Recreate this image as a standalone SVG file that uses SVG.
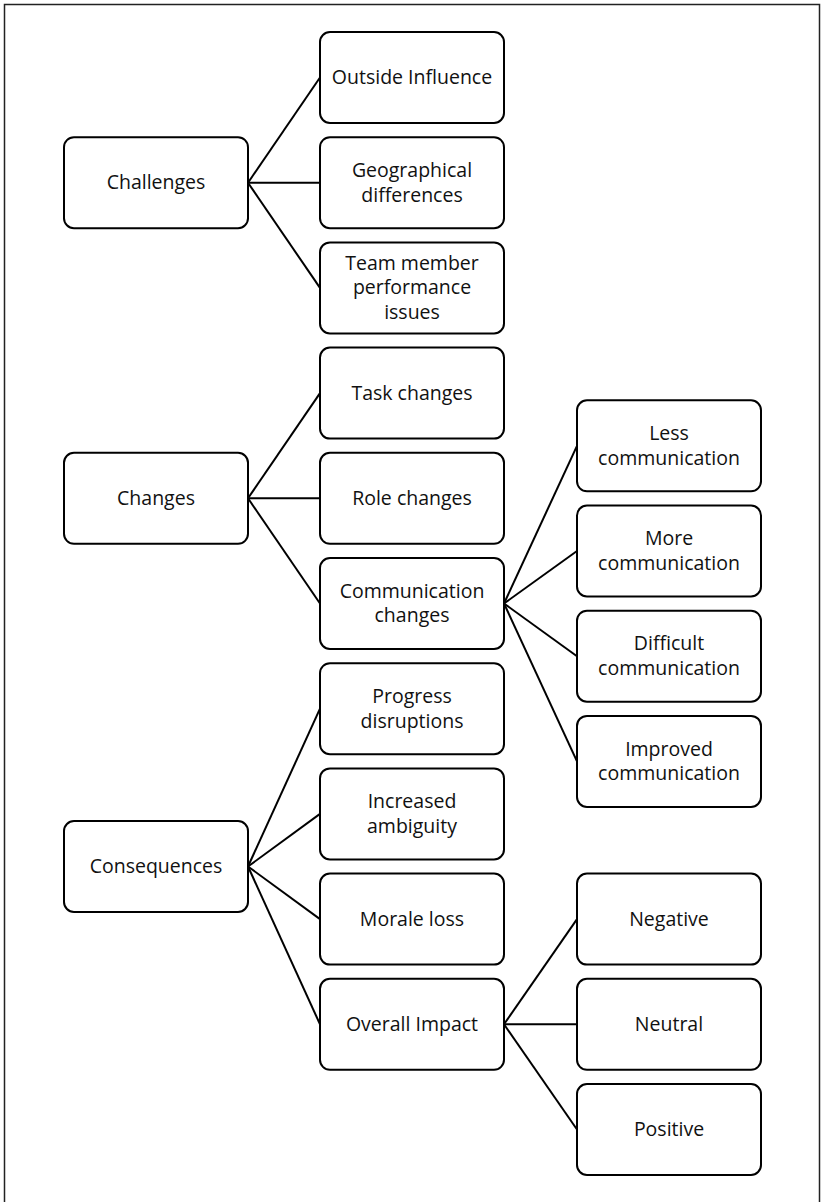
<svg xmlns="http://www.w3.org/2000/svg" width="821" height="1202" viewBox="0 0 821 1202">
<style>
.box{fill:#fff;stroke:#000;stroke-width:2}
.lbl{font-family:"Open Sans","Liberation Sans",sans-serif;font-size:19.5px;fill:#111;text-anchor:middle}
.con line{stroke:#000;stroke-width:2}
</style>
<rect x="0" y="0" width="821" height="1202" fill="#fff"/>
<rect x="4.5" y="4.5" width="815" height="1210" fill="none" stroke="#222" stroke-width="1.5"/>
<g id="connectors" class="con">
<line x1="248" y1="182.7" x2="320" y2="77.5"/>
<line x1="248" y1="182.7" x2="320" y2="182.7"/>
<line x1="248" y1="182.7" x2="320" y2="287.9"/>
<line x1="248" y1="498.3" x2="320" y2="393.1"/>
<line x1="248" y1="498.3" x2="320" y2="498.3"/>
<line x1="248" y1="498.3" x2="320" y2="603.5"/>
<line x1="248" y1="866.5" x2="320" y2="708.7"/>
<line x1="248" y1="866.5" x2="320" y2="813.9"/>
<line x1="248" y1="866.5" x2="320" y2="919.1"/>
<line x1="248" y1="866.5" x2="320" y2="1024.3"/>
<line x1="504" y1="603.5" x2="577" y2="445.8"/>
<line x1="504" y1="603.5" x2="577" y2="551"/>
<line x1="504" y1="603.5" x2="577" y2="656.2"/>
<line x1="504" y1="603.5" x2="577" y2="761.4"/>
<line x1="504" y1="1024.3" x2="577" y2="919.1"/>
<line x1="504" y1="1024.3" x2="577" y2="1024.3"/>
<line x1="504" y1="1024.3" x2="577" y2="1129.5"/>
</g>
<g id="challenges"><rect class="box" x="64" y="137.2" width="184" height="91" rx="10"/><text class="lbl" x="156" y="189.2">Challenges</text></g>
<g id="changes"><rect class="box" x="64" y="452.8" width="184" height="91" rx="10"/><text class="lbl" x="156" y="504.8">Changes</text></g>
<g id="consequences"><rect class="box" x="64" y="821" width="184" height="91" rx="10"/><text class="lbl" x="156" y="873">Consequences</text></g>
<g id="outside-influence"><rect class="box" x="320" y="32" width="184" height="91" rx="10"/><text class="lbl" x="412" y="84">Outside Influence</text></g>
<g id="geographical"><rect class="box" x="320" y="137.2" width="184" height="91" rx="10"/><text class="lbl" x="412" y="176.8">Geographical</text><text class="lbl" x="412" y="201.5">differences</text></g>
<g id="team-member"><rect class="box" x="320" y="242.4" width="184" height="91" rx="10"/><text class="lbl" x="412" y="269.7">Team member</text><text class="lbl" x="412" y="294.4">performance</text><text class="lbl" x="412" y="319.1">issues</text></g>
<g id="task-changes"><rect class="box" x="320" y="347.6" width="184" height="91" rx="10"/><text class="lbl" x="412" y="399.6">Task changes</text></g>
<g id="role-changes"><rect class="box" x="320" y="452.8" width="184" height="91" rx="10"/><text class="lbl" x="412" y="504.8">Role changes</text></g>
<g id="communication-changes"><rect class="box" x="320" y="558" width="184" height="91" rx="10"/><text class="lbl" x="412" y="597.6">Communication</text><text class="lbl" x="412" y="622.3">changes</text></g>
<g id="progress-disruptions"><rect class="box" x="320" y="663.2" width="184" height="91" rx="10"/><text class="lbl" x="412" y="702.8">Progress</text><text class="lbl" x="412" y="727.5">disruptions</text></g>
<g id="increased-ambiguity"><rect class="box" x="320" y="768.4" width="184" height="91" rx="10"/><text class="lbl" x="412" y="808">Increased</text><text class="lbl" x="412" y="832.7">ambiguity</text></g>
<g id="morale-loss"><rect class="box" x="320" y="873.6" width="184" height="91" rx="10"/><text class="lbl" x="412" y="925.6">Morale loss</text></g>
<g id="overall-impact"><rect class="box" x="320" y="978.8" width="184" height="91" rx="10"/><text class="lbl" x="412" y="1030.8">Overall Impact</text></g>
<g id="less-communication"><rect class="box" x="577" y="400.3" width="184" height="91" rx="10"/><text class="lbl" x="669" y="439.9">Less</text><text class="lbl" x="669" y="464.6">communication</text></g>
<g id="more-communication"><rect class="box" x="577" y="505.5" width="184" height="91" rx="10"/><text class="lbl" x="669" y="545.1">More</text><text class="lbl" x="669" y="569.8">communication</text></g>
<g id="difficult-communication"><rect class="box" x="577" y="610.7" width="184" height="91" rx="10"/><text class="lbl" x="669" y="650.3">Difficult</text><text class="lbl" x="669" y="675">communication</text></g>
<g id="improved-communication"><rect class="box" x="577" y="715.9" width="184" height="91" rx="10"/><text class="lbl" x="669" y="755.5">Improved</text><text class="lbl" x="669" y="780.2">communication</text></g>
<g id="negative"><rect class="box" x="577" y="873.6" width="184" height="91" rx="10"/><text class="lbl" x="669" y="925.6">Negative</text></g>
<g id="neutral"><rect class="box" x="577" y="978.8" width="184" height="91" rx="10"/><text class="lbl" x="669" y="1030.8">Neutral</text></g>
<g id="positive"><rect class="box" x="577" y="1084" width="184" height="91" rx="10"/><text class="lbl" x="669" y="1136">Positive</text></g>
</svg>
